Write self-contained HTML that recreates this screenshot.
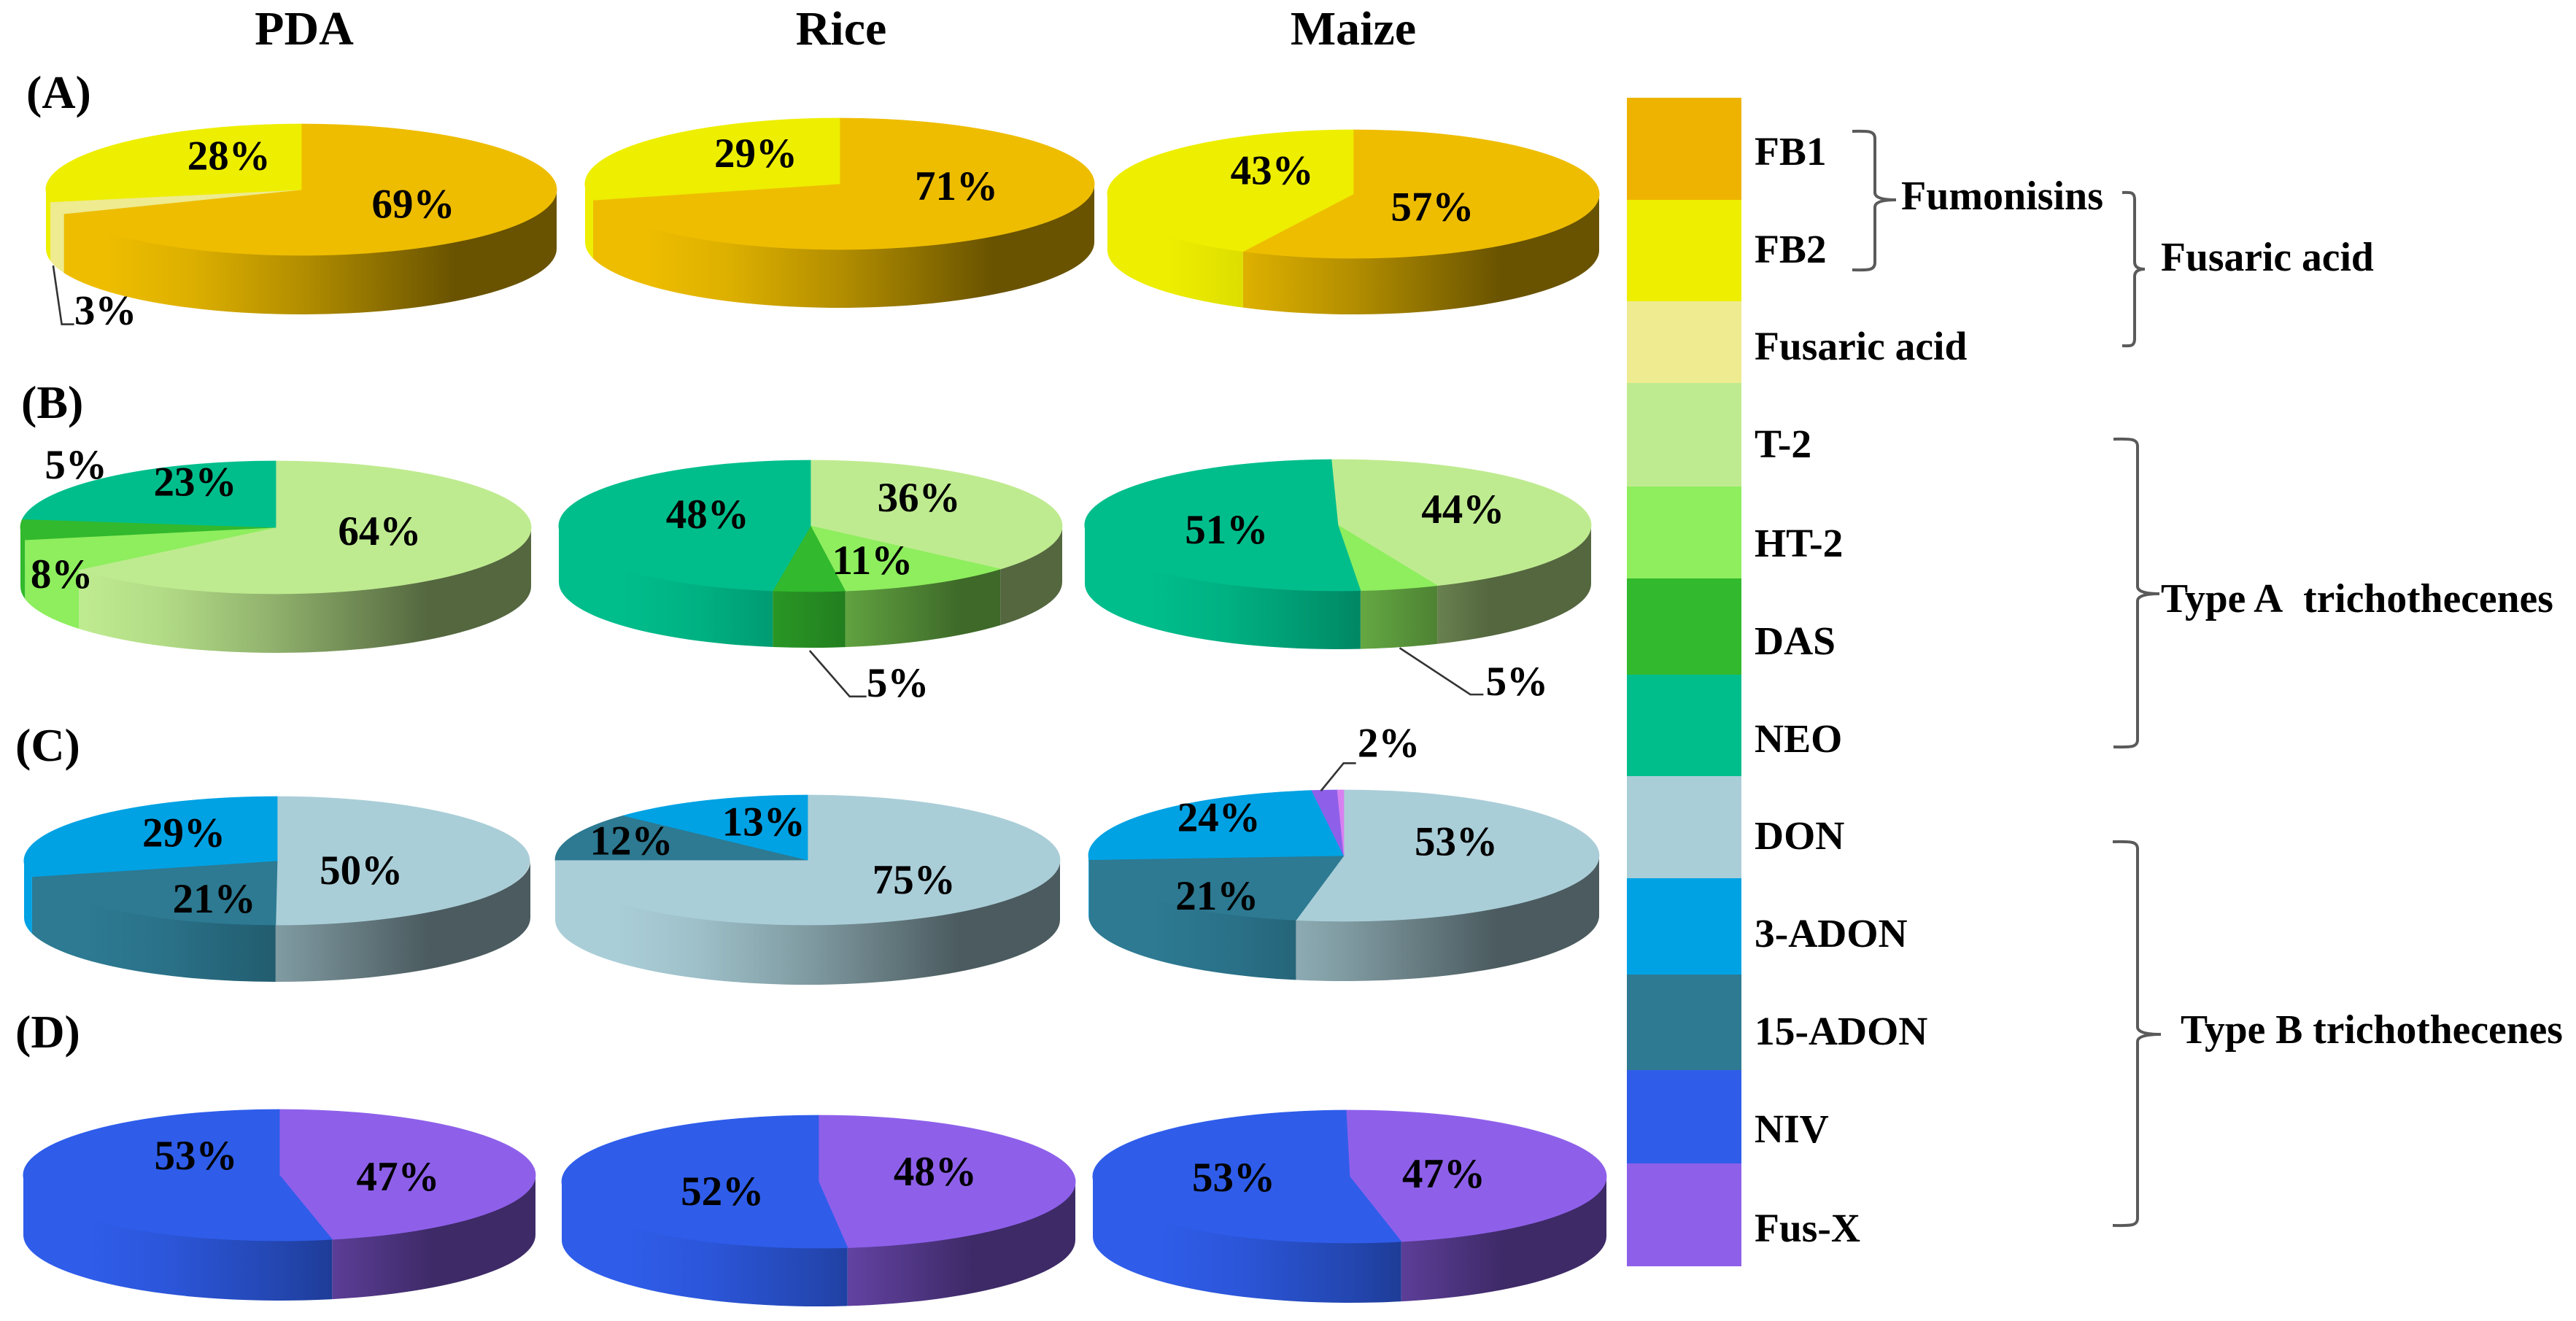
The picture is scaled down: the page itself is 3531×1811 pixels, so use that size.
<!DOCTYPE html>
<html lang="en">
<head>
<meta charset="utf-8">
<title>Mycotoxin profiles on PDA, rice and maize</title>
<style>
html,body{margin:0;padding:0;background:#fff;}
svg{display:block;}
text{font-family:"Liberation Serif",serif;font-weight:bold;fill:#000;}
</style>
</head>
<body>
<svg id="chart" xmlns="http://www.w3.org/2000/svg" width="3531" height="1811" viewBox="0 0 3531 1811">
<rect x="0" y="0" width="3531" height="1811" fill="#fff"/>
<defs id="gradients"></defs>
<g id="pies"></g>
<g id="legend"></g>
<g id="groups">
<text x="2606" y="287" font-size="56">Fumonisins</text>
<text x="2962" y="371" font-size="55.6">Fusaric acid</text>
<text x="2962" y="839" font-size="55.6">Type A&#160; trichothecenes</text>
<text x="2989" y="1430" font-size="55.6">Type B trichothecenes</text>
</g>
</svg>
<script>
// ---- chart data (percent of total) ----
const substrates = ['PDA', 'Rice', 'Maize'];
const panels = ['(A)', '(B)', '(C)', '(D)'];

const panelAToxins = ['FB1', 'Fusaric acid', 'FB2'];
const panelAPDA = [69, 3, 28];
const panelARice = [71, 0, 29];
const panelAMaize = [57.4, 0, 42.6];

const panelBToxins = ['T-2', 'HT-2', 'DAS', 'NEO'];
const panelBPDA = [64, 8, 5, 23];
const panelBRice = [36.4, 11.4, 4.6, 47.6];
const panelBMaize = [44, 5, 0, 51];

const panelCToxins = ['DON', '15-ADON', '3-ADON', 'Fus-X', 'trace'];
const panelCPDA = [50.1, 20.9, 29, 0, 0];
const panelCRice = [75, 12, 13, 0, 0];
const panelCMaize = [53, 21, 24, 1.6, 0.4];

const panelDToxins = ['Fus-X', 'NIV'];
const panelDPDA = [46.7, 53.3];
const panelDRice = [48.2, 51.8];
const panelDMaize = [47, 53];

const legendToxins = ['FB1', 'FB2', 'Fusaric acid', 'T-2', 'HT-2', 'DAS', 'NEO', 'DON', '3-ADON', '15-ADON', 'NIV', 'Fus-X'];

// ---- styling and layout (separate from the data) ----
const toxinColors = {
  'FB1': '#eebd00', 'FB2': '#eeee00', 'Fusaric acid': '#eeeb90',
  'T-2': '#bfeb90', 'HT-2': '#8eee5e', 'DAS': '#32b92d', 'NEO': '#00be8c',
  'DON': '#aaced8', '3-ADON': '#00a2e4', '15-ADON': '#2d7a92',
  'NIV': '#2f5dea', 'Fus-X': '#8e60ea', 'trace': '#d880f0'
};
const legendColorOverride = { 'FB1': '#eeb300' };

const panelToxins = [panelAToxins, panelBToxins, panelCToxins, panelDToxins];
const panelValues = [
  [panelAPDA, panelARice, panelAMaize],
  [panelBPDA, panelBRice, panelBMaize],
  [panelCPDA, panelCRice, panelCMaize],
  [panelDPDA, panelDRice, panelDMaize]
];

const pieFrames = [
  [{cx:413,cy:260,rx:350,ry:90,d:81,rot:0},{cx:1151,cy:252,rx:349,ry:90,d:80,rot:0},{cx:1855,cy:266,rx:337,ry:88,d:77,rot:0}],
  [{cx:378,cy:723,rx:350,ry:91,d:81,rot:0},{cx:1111,cy:721,rx:345,ry:90,d:77,rot:0},{cx:1834,cy:720,rx:347,ry:90,d:80,rot:-1.5}],
  [{cx:380,cy:1180,rx:347,ry:88,d:78,rot:0},{cx:1107,cy:1179,rx:346,ry:89,d:82,rot:0},{cx:1842,cy:1173,rx:350,ry:90,d:82,rot:0}],
  [{cx:383,cy:1611,rx:351,ry:90,d:82,rot:0},{cx:1122,cy:1620,rx:352,ry:91,d:80,rot:0},{cx:1850,cy:1613,rx:352,ry:91,d:82,rot:-0.8}]
];

// label offsets from each wedge's mid point, by toxin index
const labelNudges = [
  [ [[-26,7],[-60,169],[68,8]], [[-11,-12],null,[56,11]], [[-95,24],null,[92,-1]] ],
  [ [[-54,0],[-97,59],[-57,-69],[33,-1]], [[-46,3],[-17,17],[121,178],[72,7]], [[-39,9],[193,179],null,[62,22]] ],
  [ [[-100,32],[46,28],[42,14]], [[-6,7],[-42,13],[25,17]], [[-62,-6],[-11,37],[-4,2],[78,-80]] ],
  [ [[-54,27],[102,-14]], [[-58,8],[86,29]], [[-88,21],[58,14]] ]
];

// leader lines: panel, substrate, toxin index, rim offset, elbow and end relative to label
const leaders = [
  {p:0,s:0,t:1,rim:[-4,-2],elbow:[-60,0],end:[-43,0]},
  {p:1,s:1,t:2,rim:[1,4],elbow:[-66,0],end:[-43,0]},
  {p:1,s:2,t:1,rim:[0,1],elbow:[-64,-1],end:[-46,-1]},
  {p:2,s:2,t:3,rim:[-5,1],elbow:[-62,9],end:[-45,9]}
];

const titleXs = [417, 1153, 1855];
const panelLabelPos = [[36,148],[29,573],[21,1043],[21,1436]];
const legendEdges = [134,274,413,525,667,793,925,1064,1204,1336,1467,1595,1736];
const legendBaselines = [226,360,493,627,763,897,1031,1164,1298,1432,1566,1702];
const brackets = [
  {name:'fumonisins-bracket', tip:2539, spine:2570, top:180, mid:274, bottom:370, tick:2599},
  {name:'fusaric-acid-bracket', tip:2909, spine:2926, top:264, mid:369, bottom:474, tick:2940},
  {name:'type-a-bracket', tip:2897, spine:2930, top:602, mid:814, bottom:1024, tick:2960},
  {name:'type-b-bracket', tip:2896, spine:2930, top:1154, mid:1418, bottom:1680, tick:2962}
];

// ---- helpers ----
const NS = 'http://www.w3.org/2000/svg';
function make(tag, attrs, parent) {
  const e = document.createElementNS(NS, tag);
  for (const k in attrs) e.setAttribute(k, attrs[k]);
  parent.appendChild(e);
  return e;
}
function slug(s) { return s.toLowerCase().replace(/[^a-z0-9]+/g, '-').replace(/^-|-$/g, ''); }
function shade(hex, f) {
  const n = parseInt(hex.slice(1), 16);
  const r = Math.round(((n >> 16) & 255) * f);
  const g = Math.round(((n >> 8) & 255) * f);
  const b = Math.round((n & 255) * f);
  return 'rgb(' + r + ',' + g + ',' + b + ')';
}
function rad(a) { return a * Math.PI / 180; }
function angleFor(frac, frame) { return frac * 360 + frame.rot; }
function topX(a, f) { return f.cx + f.rx * Math.sin(rad(a)); }
function topY(a, f) { return f.cy - f.ry * Math.cos(rad(a)); }
function fmt(v) { return v.toFixed(2); }

const defs = document.getElementById('gradients');
const piesGroup = document.getElementById('pies');
const shadeStops = [[0.12,1],[0.28,0.93],[0.5,0.75],[0.8,0.44]];

function sideGradient(id, color, f) {
  const g = make('linearGradient', {id:id, gradientUnits:'userSpaceOnUse', x1:f.cx - f.rx, y1:0, x2:f.cx + f.rx, y2:0}, defs);
  shadeStops.forEach(function (st) {
    make('stop', {offset:st[0], 'stop-color':shade(color, st[1])}, g);
  });
}

function drawPie(p, s) {
  const f = pieFrames[p][s];
  const toxins = panelToxins[p];
  const values = panelValues[p][s];
  const total = values.reduce(function (a, b) { return a + b; }, 0);
  const pieName = 'pie-' + slug(panels[p]) + '-' + slug(substrates[s]);
  const g = make('g', {}, piesGroup);
  
  

  // wedge angles from the values
  let cum = 0;
  const wedges = values.map(function (v, t) {
    const a0 = angleFor(cum / total, f);
    cum += v;
    const a1 = angleFor(cum / total, f);
    return {t:t, v:v, a0:a0, a1:a1, mid:(a0 + a1) / 2, color:toxinColors[toxins[t]]};
  });

  // front walls
  wedges.forEach(function (w) {
    const a = Math.max(w.a0, 90);
    const b = Math.min(w.a1, 270);
    if (w.v <= 0 || b <= a) return;
    const id = 'side-' + p + '-' + s + '-' + w.t;
    sideGradient(id, w.color, f);
    const d = 'M' + fmt(topX(a, f)) + ' ' + fmt(topY(a, f)) +
      ' A' + f.rx + ' ' + f.ry + ' 0 0 1 ' + fmt(topX(b, f)) + ' ' + fmt(topY(b, f)) +
      ' L' + fmt(topX(b, f)) + ' ' + fmt(topY(b, f) + f.d) +
      ' A' + f.rx + ' ' + f.ry + ' 0 0 0 ' + fmt(topX(a, f)) + ' ' + fmt(topY(a, f) + f.d) + ' Z';
    const side = make('path', {d:d, fill:'url(#' + id + ')'}, g);
    
    
  });

  // top faces
  wedges.forEach(function (w) {
    if (w.v <= 0) return;
    const large = (w.a1 - w.a0) > 180 ? 1 : 0;
    const d = 'M' + f.cx + ' ' + f.cy +
      ' L' + fmt(topX(w.a0, f)) + ' ' + fmt(topY(w.a0, f)) +
      ' A' + f.rx + ' ' + f.ry + ' 0 ' + large + ' 1 ' + fmt(topX(w.a1, f)) + ' ' + fmt(topY(w.a1, f)) + ' Z';
    const top = make('path', {d:d, fill:w.color, stroke:w.color, 'stroke-width':0.8}, g);
    
    
  });

  // leaders
  leaders.forEach(function (L) {
    if (L.p !== p || L.s !== s) return;
    const w = wedges[L.t];
    const n = labelNudges[p][s][L.t];
    const lx = f.cx + 0.62 * f.rx * Math.sin(rad(w.mid)) + n[0];
    const ly = f.cy - 0.62 * f.ry * Math.cos(rad(w.mid)) + n[1];
    const rimX = topX(w.mid, f) + L.rim[0];
    const rimY = topY(w.mid, f) + (Math.cos(rad(w.mid)) < 0 ? f.d : 0) + L.rim[1];
    const pts = fmt(rimX) + ',' + fmt(rimY) + ' ' + fmt(lx + L.elbow[0]) + ',' + fmt(ly + L.elbow[1]) + ' ' + fmt(lx + L.end[0]) + ',' + fmt(ly + L.end[1]);
    const line = make('polyline', {points:pts, fill:'none', stroke:'#333', 'stroke-width':2.6}, g);
    
    
  });

  // value labels
  wedges.forEach(function (w) {
    const n = labelNudges[p][s][w.t];
    if (w.v <= 0 || !n) return;
    const x = f.cx + 0.62 * f.rx * Math.sin(rad(w.mid)) + n[0];
    const y = f.cy - 0.62 * f.ry * Math.cos(rad(w.mid)) + n[1];
    const label = make('text', {x:fmt(x), y:fmt(y), 'font-size':57, 'text-anchor':'middle'}, g);
    
    
    label.textContent = Math.round(w.v) + '%';
  });
}

for (let p = 0; p < panels.length; p++) {
  for (let s = 0; s < substrates.length; s++) drawPie(p, s);
}

// column titles and panel letters
substrates.forEach(function (name, i) {
  const t = make('text', {x:titleXs[i], y:61, 'font-size':66, 'text-anchor':'middle'}, piesGroup);
  
  
  t.textContent = name;
});
panels.forEach(function (name, i) {
  const t = make('text', {x:panelLabelPos[i][0], y:panelLabelPos[i][1], 'font-size':64}, piesGroup);
  
  
  t.textContent = name;
});

// legend
const legendGroup = document.getElementById('legend');
legendToxins.forEach(function (name, i) {
  const swatch = make('rect', {x:2230, y:legendEdges[i], width:157, height:legendEdges[i + 1] - legendEdges[i], fill:legendColorOverride[name] || toxinColors[name]}, legendGroup);
  
  
  const t = make('text', {x:2405, y:legendBaselines[i], 'font-size':55.5}, legendGroup);
  
  
  t.textContent = name;
});

// group brackets
const groupsGroup = document.getElementById('groups');
brackets.forEach(function (b) {
  const d = 'M' + b.tip + ' ' + b.top +
    ' C' + (b.tip + (b.spine - b.tip) * 0.6) + ' ' + b.top + ' ' + b.spine + ' ' + (b.top - 2) + ' ' + b.spine + ' ' + (b.top + 10) +
    ' L' + b.spine + ' ' + (b.mid - 10) +
    ' Q' + b.spine + ' ' + b.mid + ' ' + b.tick + ' ' + b.mid +
    ' Q' + b.spine + ' ' + b.mid + ' ' + b.spine + ' ' + (b.mid + 10) +
    ' L' + b.spine + ' ' + (b.bottom - 10) +
    ' C' + b.spine + ' ' + (b.bottom + 2) + ' ' + (b.tip + (b.spine - b.tip) * 0.6) + ' ' + b.bottom + ' ' + b.tip + ' ' + b.bottom;
  const path = make('path', {d:d, fill:'none', stroke:'#5a5a5a', 'stroke-width':4}, groupsGroup);
  
  
});
</script>
</body>
</html>
